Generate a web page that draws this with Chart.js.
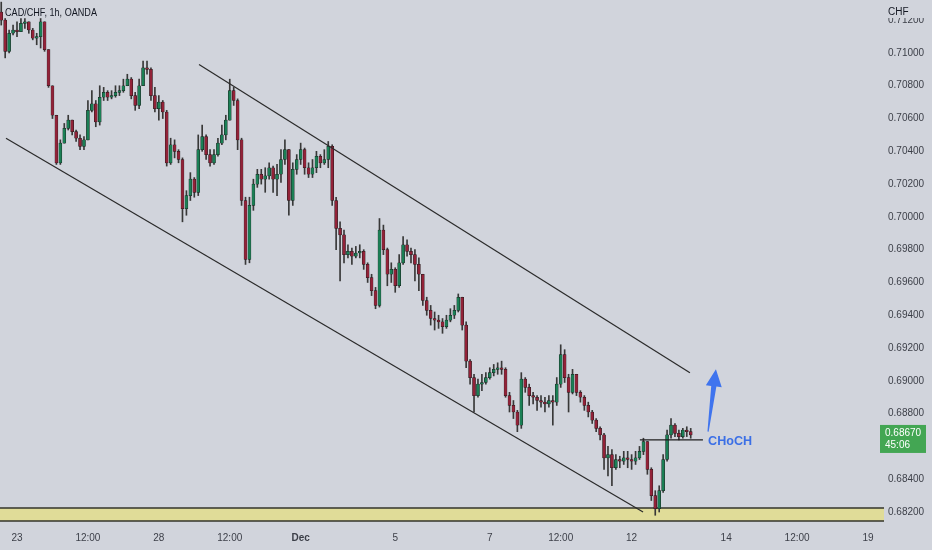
<!DOCTYPE html>
<html>
<head>
<meta charset="utf-8">
<script src="https://cdn.jsdelivr.net/npm/chart.js@4.4.1/dist/chart.umd.min.js"></script>
<style>
  html, body { margin: 0; padding: 0; background: #d1d4dc; }
  #wrap { width: 932px; height: 550px; }
</style>
</head>
<body>
<div id="wrap"><canvas id="myChart"></canvas></div>
<script>
// CAD/CHF candles, one every 2 trading hours (hours counted from Nov 23 00:00, weekends removed)
const firstHour = -8;
const barHours = 2;
const firstOpen = 0.7125;

const closes = [
  .7120,.7101,.7112,.7114,.7113,.7118,.7119,.7114,.7109,.7110,
  .7119,.7102,.7080,.7062,.7033,.7045,.7054,.7059,.7052,.7048,
  .7043,.7047,.7065,.7069,.7058,.7073,.7076,.7073,.7074,.7076,
  .7077,.7080,.7084,.7074,.7068,.7080,.7091,.7090,.7074,.7066,
  .7070,.7064,.7033,.7044,.7040,.7035,.7005,.7013,.7023,.7015,
  .7041,.7049,.7038,.7033,.7038,.7045,.7050,.7059,.7077,.7071,
  .7047,.7010,.6974,.7007,.7020,.7026,.7023,.7025,.7030,.7023,
  .7026,.7035,.7041,.7010,.7029,.7035,.7041,.7030,.7026,.7030,
  .7037,.7033,.7035,.7043,.7010,.6993,.6989,.6977,.6979,.6976,
  .6978,.6979,.6971,.6963,.6955,.6946,.6992,.6980,.6965,.6968,
  .6958,.6972,.6983,.6979,.6977,.6971,.6965,.6949,.6943,.6938,
  .6937,.6936,.6933,.6937,.6940,.6943,.6951,.6934,.6912,.6902,
  .6891,.6898,.6899,.6902,.6905,.6907,.6908,.6907,.6891,.6885,
  .6881,.6873,.6901,.6896,.6891,.6890,.6888,.6887,.6886,.6888,
  .6887,.6898,.6916,.6902,.6893,.6904,.6893,.6890,.6885,.6881,
  .6876,.6871,.6867,.6853,.6855,.6847,.6852,.6851,.6853,.6852,
  .6851,.6853,.6857,.6863,.6846,.6830,.6822,.6833,.6852,.6867,
  .6873,.6868,.6866,.6870,.6869,.6867
];

const highs = [
  .7131,.7121,.7114,.7117,.7119,.7121,.7121,.7119,.7115,.7112,
  .7121,.7119,.7102,.7080,.7062,.7047,.7057,.7062,.7059,.7053,
  .7050,.7049,.7071,.7077,.7071,.7080,.7079,.7077,.7077,.7080,
  .7080,.7084,.7087,.7085,.7076,.7084,.7095,.7095,.7091,.7079,
  .7074,.7071,.7065,.7048,.7047,.7041,.7036,.7016,.7027,.7024,
  .7050,.7056,.7050,.7041,.7041,.7048,.7056,.7062,.7084,.7079,
  .7072,.7048,.7012,.7012,.7023,.7029,.7029,.7030,.7033,.7031,
  .7032,.7041,.7047,.7041,.7033,.7038,.7045,.7042,.7033,.7035,
  .7040,.7038,.7041,.7046,.7044,.7012,.6997,.6992,.6983,.6981,
  .6982,.6983,.6980,.6972,.6965,.6957,.6999,.6995,.6981,.6972,
  .6969,.6977,.6988,.6986,.6981,.6980,.6975,.6965,.6951,.6946,
  .6942,.6940,.6938,.6940,.6944,.6946,.6953,.6951,.6936,.6913,
  .6904,.6901,.6904,.6905,.6908,.6910,.6911,.6912,.6908,.6893,
  .6888,.6882,.6905,.6902,.6898,.6893,.6891,.6891,.6890,.6891,
  .6891,.6902,.6922,.6919,.6904,.6907,.6904,.6894,.6891,.6887,
  .6882,.6877,.6872,.6868,.6860,.6858,.6855,.6854,.6857,.6857,
  .6855,.6857,.6860,.6865,.6863,.6847,.6833,.6836,.6855,.6870,
  .6877,.6874,.6870,.6871,.6872,.6871
];

const lows = [
  .7117,.7097,.7100,.7111,.7110,.7113,.7115,.7112,.7108,.7105,
  .7103,.7101,.7079,.7060,.7032,.7032,.7045,.7053,.7050,.7046,
  .7041,.7041,.7047,.7064,.7055,.7056,.7071,.7071,.7072,.7073,
  .7074,.7076,.7080,.7072,.7065,.7066,.7080,.7087,.7071,.7064,
  .7059,.7060,.7031,.7032,.7036,.7033,.6997,.7001,.7010,.7012,
  .7013,.7040,.7035,.7031,.7032,.7037,.7044,.7047,.7059,.7068,
  .7041,.7007,.6971,.6972,.7004,.7018,.7020,.7015,.7023,.7015,
  .7013,.7021,.7032,.7001,.7007,.7026,.7032,.7026,.7024,.7024,
  .7027,.7030,.7032,.7030,.7007,.6980,.6961,.6972,.6975,.6971,
  .6975,.6975,.6968,.6960,.6952,.6944,.6945,.6977,.6958,.6960,
  .6954,.6957,.6971,.6976,.6972,.6961,.6955,.6946,.6940,.6934,
  .6931,.6932,.6929,.6932,.6936,.6938,.6942,.6931,.6908,.6898,
  .6881,.6890,.6894,.6898,.6901,.6903,.6904,.6904,.6890,.6881,
  .6877,.6869,.6871,.6893,.6885,.6886,.6882,.6884,.6881,.6884,
  .6873,.6885,.6896,.6899,.6881,.6892,.6891,.6887,.6882,.6878,
  .6874,.6869,.6864,.6846,.6842,.6836,.6846,.6847,.6849,.6847,
  .6846,.6849,.6852,.6855,.6843,.6827,.6818,.6820,.6832,.6851,
  .6865,.6866,.6864,.6865,.6866,.6865
];

const timeTicks = [0, 36, 72, 108, 144, 192, 240, 276, 312, 360, 396, 432];
const timeLabels = ['23', '12:00', '28', '12:00', 'Dec', '5', '7', '12:00', '12', '14', '12:00', '19'];
const priceTicks = [0.682, 0.684, 0.686, 0.688, 0.690, 0.692, 0.694, 0.696, 0.698, 0.700, 0.702, 0.704, 0.706, 0.708, 0.710, 0.712];

// drawings on the chart
const upperChannel = [{x: 92.4, y: 0.7093}, {x: 341.6, y: 0.6905}];
const lowerChannel = [{x: -5.6, y: 0.7048}, {x: 317.8, y: 0.6820}];
const chochLevel = [{x: 316.2, y: 0.6864}, {x: 348.2, y: 0.6864}];
const chochText = {x: 350.8, y: 0.6863, text: 'CHoCH'};
const arrowFrom = {x: 350.8, y: 0.6869};
const arrowTo = {x: 354.8, y: 0.6907};
const demandZone = [0.68145, 0.68224];
const lastPrice = 0.68670;
const countdown = '45:06';

const opens = closes.map((c, i) => i === 0 ? firstOpen : closes[i - 1]);
const times = closes.map((c, i) => firstHour + i * barHours);
const isUp = closes.map((c, i) => c >= opens[i]);

const BG = '#d1d4dc';
const FONT = "'Liberation Sans', Arial, sans-serif";

const decor = {
  id: 'decor',
  beforeDraw(chart) {
    const ctx = chart.ctx;
    ctx.save();
    ctx.fillStyle = BG;
    ctx.fillRect(0, 0, chart.width, chart.height);
    ctx.restore();
  },
  beforeDatasetsDraw(chart) {
    const {ctx, chartArea, scales: {y}} = chart;
    const top = y.getPixelForValue(demandZone[1]);
    const bot = y.getPixelForValue(demandZone[0]);
    ctx.save();
    ctx.fillStyle = '#e0dc98';
    ctx.fillRect(0, top, chartArea.right + 2, bot - top);
    ctx.strokeStyle = '#35352b';
    ctx.lineWidth = 1.6;
    ctx.beginPath();
    ctx.moveTo(0, top); ctx.lineTo(chartArea.right + 2, top);
    ctx.moveTo(0, bot); ctx.lineTo(chartArea.right + 2, bot);
    ctx.stroke();
    ctx.restore();
  },
  afterDraw(chart) {
    const {ctx, chartArea, scales: {x, y}} = chart;
    ctx.save();

    // blue arrow
    const bx = x.getPixelForValue(arrowFrom.x), by = y.getPixelForValue(arrowFrom.y);
    const tx = x.getPixelForValue(arrowTo.x), ty = y.getPixelForValue(arrowTo.y);
    const len = Math.hypot(tx - bx, ty - by);
    const dx = (tx - bx) / len, dy = (ty - by) / len;
    const nx = -dy, ny = dx;
    const headLen = 17, headW = 8, neckW = 2.6, baseW = 0.6;
    const hx = tx - dx * headLen, hy = ty - dy * headLen;
    ctx.fillStyle = '#3f74ee';
    ctx.beginPath();
    ctx.moveTo(bx + nx * baseW, by + ny * baseW);
    ctx.lineTo(hx + nx * neckW, hy + ny * neckW);
    ctx.lineTo(hx + nx * headW, hy + ny * headW);
    ctx.lineTo(tx, ty);
    ctx.lineTo(hx - nx * headW, hy - ny * headW);
    ctx.lineTo(hx - nx * neckW, hy - ny * neckW);
    ctx.lineTo(bx - nx * baseW, by - ny * baseW);
    ctx.closePath();
    ctx.fill();

    // CHoCH label
    ctx.fillStyle = '#3b6fe6';
    ctx.font = 'bold 13px ' + FONT;
    ctx.textBaseline = 'middle';
    ctx.textAlign = 'left';
    ctx.fillText(chochText.text, x.getPixelForValue(chochText.x), y.getPixelForValue(chochText.y), 44);

    // symbol title
    ctx.fillStyle = '#131722';
    ctx.font = '10.5px ' + FONT;
    ctx.fillText('CAD/CHF, 1h, OANDA', 5, 13, 92);

    // currency header over the price scale
    ctx.fillStyle = BG;
    ctx.fillRect(chartArea.right + 1, 0, chart.width - chartArea.right, 18);
    ctx.fillStyle = '#131722';
    ctx.font = '10px ' + FONT;
    ctx.fillText('CHF', chartArea.right + 6, 12);

    // last price label
    const py = y.getPixelForValue(lastPrice);
    ctx.fillStyle = '#43a653';
    ctx.fillRect(chartArea.right - 2, py - 10, 46, 28);
    ctx.fillStyle = '#ffffff';
    ctx.font = '10px ' + FONT;
    ctx.fillText(lastPrice.toFixed(5), chartArea.right + 3, py - 2);
    ctx.fillText(countdown, chartArea.right + 3, py + 10);
    ctx.restore();
  }
};

const ctx = document.getElementById('myChart').getContext('2d');
new Chart(ctx, {
  type: 'bar',
  data: {
    datasets: [
      {
        type: 'line',
        data: upperChannel,
        borderColor: '#2a2a2a',
        borderWidth: 1.2,
        pointRadius: 0,
        order: 0
      },
      {
        type: 'line',
        data: lowerChannel,
        borderColor: '#2a2a2a',
        borderWidth: 1.2,
        pointRadius: 0,
        order: 0
      },
      {
        type: 'line',
        data: chochLevel,
        borderColor: '#1e1e1e',
        borderWidth: 1.3,
        pointRadius: 0,
        order: 0
      },
      {
        // wicks
        data: times.map((t, i) => ({x: t, y: [lows[i], highs[i]]})),
        backgroundColor: '#383838',
        barThickness: 1,
        grouped: false,
        order: 2
      },
      {
        // bodies
        data: times.map((t, i) => ({x: t, y: [opens[i], closes[i]]})),
        backgroundColor: isUp.map(u => u ? '#1b7f55' : '#922238'),
        borderColor: '#1a1a1a',
        borderWidth: 0.5,
        borderSkipped: false,
        minBarLength: 1,
        barThickness: 3,
        grouped: false,
        order: 1
      }
    ]
  },
  options: {
    responsive: true,
    maintainAspectRatio: false,
    animation: false,
    events: [],
    layout: { padding: 0 },
    plugins: {
      legend: { display: false },
      tooltip: { enabled: false }
    },
    scales: {
      x: {
        type: 'linear',
        min: -8.63,
        max: 439.1,
        offset: false,
        grid: { display: false, drawTicks: false },
        border: { display: false },
        afterBuildTicks: s => { s.ticks = timeTicks.map(v => ({value: v})); },
        afterFit: s => { s.height = 28; s.paddingLeft = 0; s.paddingRight = 0; },
        ticks: {
          autoSkip: false,
          maxRotation: 0,
          padding: 10,
          color: '#3c3f48',
          font: c => ({family: FONT, size: 10, weight: c.tick && c.tick.label === 'Dec' ? 'bold' : 'normal'}),
          callback: v => timeLabels[timeTicks.indexOf(v)]
        }
      },
      y: {
        type: 'linear',
        position: 'right',
        min: 0.68139,
        max: 0.71323,
        grid: { display: false, drawTicks: false },
        border: { display: false },
        afterBuildTicks: s => { s.ticks = priceTicks.map(v => ({value: v})); },
        afterFit: s => { s.width = 50; s.paddingTop = 0; s.paddingBottom = 0; },
        ticks: {
          padding: 6,
          crossAlign: 'near',
          color: '#3c3f48',
          font: { family: FONT, size: 10 },
          callback: v => v.toFixed(5)
        }
      }
    }
  },
  plugins: [decor]
});
</script>
</body>
</html>
